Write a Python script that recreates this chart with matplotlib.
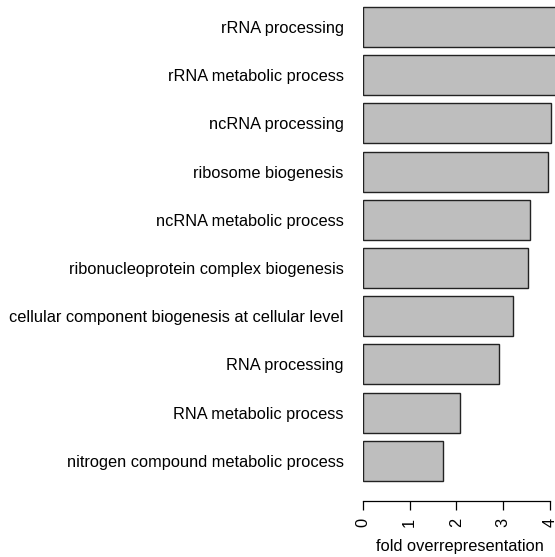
import numpy as np
import matplotlib
matplotlib.use('Agg')
from matplotlib import pyplot as plt

# data, top to bottom
terms = ['rRNA processing', 'rRNA metabolic process', 'ncRNA processing',
         'ribosome biogenesis', 'ncRNA metabolic process',
         'ribonucleoprotein complex biogenesis',
         'cellular component biogenesis at cellular level',
         'RNA processing', 'RNA metabolic process',
         'nitrogen compound metabolic process']
fold = [4.25, 4.12, 4.02, 3.96, 3.57, 3.53, 3.20, 2.90, 2.08, 1.71]
xticks = [0, 1, 2, 3, 4]

plt.rcParams['font.family'] = ['Liberation Sans', 'DejaVu Sans']
fs = 11.8

W, H = 555, 557
fig = plt.figure(figsize=(W/100, H/100), dpi=100)
# axes box in pixels: left 363, right 555, top 0, bottom 485
ax = fig.add_axes([363/W, 1-485/H, (W-363)/W, 485/H])

pos = np.arange(len(terms))
ax.barh(pos, fold, height=0.83, color='#bebebe', edgecolor='#222222', linewidth=1.0)
ax.set_xlim(0, (W-364)/46.5)
ax.set_ylim(9.5, -0.56)

ax.set_yticks(pos)
ax.set_yticklabels(terms, fontsize=fs)
ax.tick_params(axis='y', length=0, pad=14)

for s in ['top', 'right', 'left']:
    ax.spines[s].set_visible(False)
ax.spines['bottom'].set_position(('outward', 11.5))
ax.spines['bottom'].set_bounds(0, 4)
ax.spines['bottom'].set_linewidth(0.9)
ax.set_xticks(xticks)
ax.set_xticklabels([str(t) for t in xticks], rotation=90, fontsize=fs)
ax.tick_params(axis='x', length=6.5, width=0.9, pad=5.5)
ax.set_xlabel('fold overrepresentation', fontsize=fs, labelpad=2)
ax.xaxis.set_label_coords((460-363)/(W-363), -(539-485)/485)

fig.savefig('out.png', dpi=100)
